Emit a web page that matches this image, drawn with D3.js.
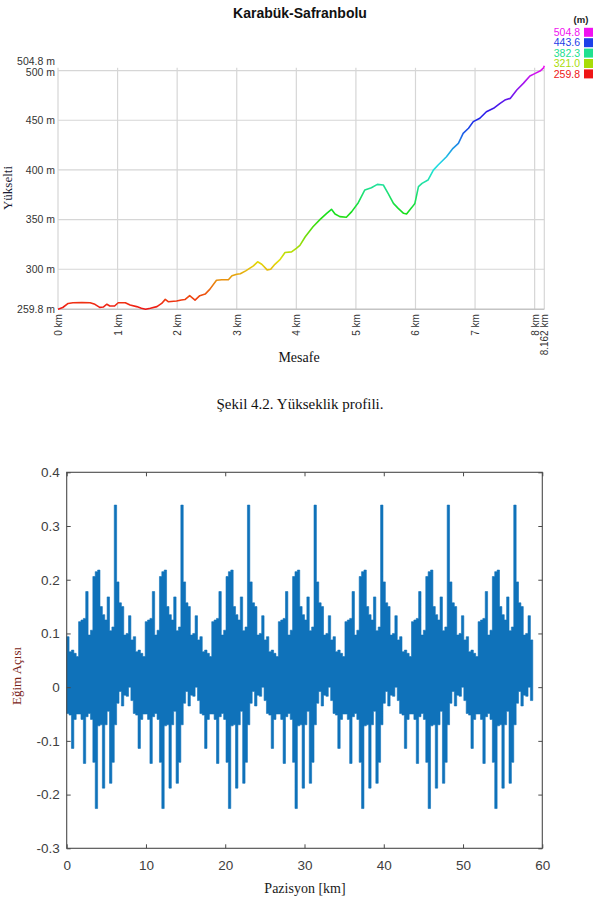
<!DOCTYPE html>
<html>
<head>
<meta charset="utf-8">
<script src="https://cdn.jsdelivr.net/npm/d3@7"></script>
<style>
  body { margin: 0; background: #fff; }
</style>
</head>
<body>
<div id="chart-area"></div>
<script>

// ---- Elevation profile (top figure) ----
var distKm = [
    0, 0.08, 0.17, 0.25, 0.40, 0.54, 0.62, 0.70, 0.76, 0.82,
    0.87, 0.95, 1.01, 1.13, 1.21, 1.32, 1.40, 1.47, 1.55, 1.66,
    1.74, 1.80, 1.85, 1.99, 2.07, 2.13, 2.21, 2.30, 2.38, 2.47,
    2.55, 2.66, 2.75, 2.86, 2.92, 3.00, 3.06, 3.15, 3.28, 3.35,
    3.42, 3.51, 3.57, 3.64, 3.73, 3.81, 3.92, 4.00, 4.06, 4.15,
    4.28, 4.40, 4.51, 4.59, 4.65, 4.73, 4.84, 4.93, 5.04, 5.15,
    5.26, 5.36, 5.46, 5.54, 5.63, 5.71, 5.80, 5.85, 5.94, 5.99,
    6.05, 6.11, 6.21, 6.30, 6.38, 6.52, 6.63, 6.72, 6.80, 6.89,
    6.97, 7.08, 7.19, 7.31, 7.42, 7.50, 7.59, 7.70, 7.81, 7.92,
    8.01, 8.09, 8.15, 8.162
];
var elevM = [
    259.8, 261.5, 265.6, 266.3, 266.5, 266.3, 264.7, 261.6, 262.0, 264.8,
    263.0, 263.0, 266.3, 266.3, 264.0, 262.4, 260.7, 259.8, 260.7, 262.4,
    265.6, 269.7, 267.3, 268.0, 269.0, 269.5, 273.4, 269.0, 273.4, 275.0,
    280.0, 289.0, 289.4, 289.5, 293.4, 295.0, 295.5, 298.4, 303.4, 307.5,
    305.0, 299.4, 300.0, 305.0, 310.0, 316.8, 317.5, 321.0, 324.0, 332.7,
    342.8, 350.2, 356.3, 360.3, 355.6, 353.0, 352.3, 358.0, 367.0, 379.8,
    382.0, 385.4, 384.8, 376.4, 366.3, 361.3, 356.3, 355.6, 362.3, 366.3,
    383.1, 386.4, 389.8, 399.8, 404.9, 413.3, 421.7, 426.7, 436.8, 441.9,
    448.6, 452.0, 458.5, 462.0, 467.0, 470.3, 472.0, 480.4, 487.1, 494.5,
    497.2, 499.5, 502.8, 504.8
];
var legendValues = [504.8, 443.6, 382.3, 321.0, 259.8];
var legendColors = ["#f012f0", "#1c40e8", "#20e090", "#a8dc08", "#ee1616"];
var distTicks = [0, 1, 2, 3, 4, 5, 6, 7, 8, 8.162];
var elevTicks = [259.8, 300, 350, 400, 450, 500, 504.8];

// ---- Slope angle (bottom figure) ----
// the profile in the figure repeats every 8.4 km (28 steps of 0.3 km), 7 times
var slopeStepKm = 0.3;
var slopeCycles = 7;
var slopeUpper = [
    0.094, 0.066, 0.069, 0.063, 0.057, 0.122, 0.125, 0.128, 0.178, 0.097,
    0.106, 0.206, 0.215, 0.218, 0.150, 0.135, 0.125, 0.168, 0.105, 0.112,
    0.339, 0.196, 0.157, 0.150, 0.097, 0.100, 0.133, 0.088
];
var slopeLower = [
    -0.049, -0.052, -0.114, -0.060, -0.050, -0.050, -0.060, -0.142, -0.055, -0.049,
    -0.060, -0.140, -0.226, -0.072, -0.070, -0.188, -0.070, -0.045, -0.179, -0.140,
    -0.070, -0.030, -0.008, -0.035, -0.015, -0.017, 0.000, -0.025
];
var slopeXTicks = [0, 10, 20, 30, 40, 50, 60];
var slopeYTicks = [-0.3, -0.2, -0.1, 0, 0.1, 0.2, 0.3, 0.4];

var svg = d3.select("#chart-area").append("svg")
    .attr("width", 595)
    .attr("height", 899)
    .style("font-family", "'Liberation Sans', Arial, sans-serif");

// ================= top figure =================
var x1 = d3.scaleLinear().domain([0, 8.162]).range([58, 544.3]);
var y1 = d3.scaleLinear().domain([259.8, 504.8]).range([309.2, 65.8]);

svg.append("text")
    .attr("x", 300).attr("y", 18)
    .attr("text-anchor", "middle")
    .attr("font-size", 14).attr("font-weight", "bold")
    .attr("fill", "#111")
    .text("Karabük-Safranbolu");

// grid
svg.append("g").selectAll("line")
    .data(distTicks)
    .join("line")
    .attr("x1", d => x1(d)).attr("x2", d => x1(d))
    .attr("y1", y1(504.8) + 2).attr("y2", y1(259.8))
    .attr("stroke", "#d6d6d6").attr("stroke-width", 1.2);

svg.append("g").selectAll("line")
    .data([300, 350, 400, 450, 500])
    .join("line")
    .attr("x1", x1(0)).attr("x2", x1(8.162))
    .attr("y1", d => y1(d)).attr("y2", d => y1(d))
    .attr("stroke", "#d6d6d6").attr("stroke-width", 1.2);

svg.append("line")
    .attr("x1", x1(0)).attr("x2", x1(8.162))
    .attr("y1", y1(259.8)).attr("y2", y1(259.8))
    .attr("stroke", "#c4c4c4").attr("stroke-width", 1.6);

// axes
var elevAxis = d3.axisLeft(y1)
    .tickValues(elevTicks)
    .tickSize(0)
    .tickPadding(3)
    .tickFormat(d => (d % 1 ? d.toFixed(1) : d) + " m");

var gy1 = svg.append("g")
    .attr("transform", `translate(${x1(0)},0)`)
    .call(elevAxis);
gy1.select(".domain").remove();
gy1.selectAll("text")
    .attr("font-size", 10.5)
    .attr("font-family", "'Liberation Sans', Arial, sans-serif")
    .attr("fill", "#333")
    // the two top labels sit nearly on each other in the figure
    .attr("y", d => d === 504.8 ? -4.5 : (d === 500 ? 1.5 : 0));

var distAxis = d3.axisBottom(x1)
    .tickValues(distTicks)
    .tickSize(0)
    .tickFormat(d => d + " km");

var gx1 = svg.append("g")
    .attr("transform", `translate(0,${y1(259.8)})`)
    .call(distAxis);
gx1.select(".domain").remove();
gx1.selectAll("text")
    .attr("transform", "rotate(-90)")
    .attr("text-anchor", "end")
    .attr("x", -5).attr("y", 0).attr("dy", "0.35em")
    .attr("font-size", 10)
    .attr("font-family", "'Liberation Sans', Arial, sans-serif")
    .attr("fill", "#333");

// elevation colour gradient, hue interpolated between the legend colours
var elevColor = d3.scaleLinear()
    .domain(legendValues.slice().reverse())
    .range(legendColors.slice().reverse())
    .interpolate(d3.interpolateHsl);

var grad = svg.append("defs").append("linearGradient")
    .attr("id", "elevGrad")
    .attr("gradientUnits", "userSpaceOnUse")
    .attr("x1", 0).attr("x2", 0)
    .attr("y1", y1(259.8)).attr("y2", y1(504.8));

grad.selectAll("stop")
    .data(d3.range(0, 1.0001, 0.025))
    .join("stop")
    .attr("offset", d => d)
    .attr("stop-color", d => elevColor(259.8 + d * (504.8 - 259.8)));

var profile = distKm.map((d, i) => ({km: d, m: elevM[i]}));

svg.append("path")
    .datum(profile)
    .attr("fill", "none")
    .attr("stroke", "url(#elevGrad)")
    .attr("stroke-width", 1.6)
    .attr("stroke-linejoin", "round")
    .attr("d", d3.line().x(d => x1(d.km)).y(d => y1(d.m)));

// legend
svg.append("text")
    .attr("x", 581).attr("y", 23)
    .attr("text-anchor", "middle")
    .attr("font-size", 9.5).attr("font-weight", "bold")
    .attr("fill", "#222")
    .text("(m)");

var leg = svg.append("g").selectAll("g")
    .data(legendValues)
    .join("g")
    .attr("transform", (d, i) => `translate(0,${32.3 + i * 10.4})`);

leg.append("text")
    .attr("x", 580).attr("dy", "0.35em")
    .attr("text-anchor", "end")
    .attr("font-size", 10.5)
    .attr("fill", (d, i) => legendColors[i])
    .text(d => d.toFixed(1));

leg.append("rect")
    .attr("x", 584).attr("y", -4.5)
    .attr("width", 9).attr("height", 9)
    .attr("fill", (d, i) => legendColors[i]);

// axis titles and caption
svg.append("text")
    .attr("transform", "translate(12,188) rotate(-90)")
    .attr("text-anchor", "middle")
    .attr("font-family", "'Liberation Serif', 'Times New Roman', serif")
    .attr("font-size", 13)
    .attr("fill", "#1a1a33")
    .text("Yükselti");

svg.append("text")
    .attr("x", 299).attr("y", 362)
    .attr("text-anchor", "middle")
    .attr("font-family", "'Liberation Serif', 'Times New Roman', serif")
    .attr("font-size", 14)
    .attr("fill", "#111")
    .text("Mesafe");

svg.append("text")
    .attr("x", 300).attr("y", 409)
    .attr("text-anchor", "middle")
    .attr("font-family", "'Liberation Serif', 'Times New Roman', serif")
    .attr("font-size", 15)
    .attr("fill", "#111")
    .text("Şekil 4.2. Yükseklik profili.");

// ================= bottom figure =================
var x2 = d3.scaleLinear().domain([0, 60]).range([66.7, 542.3]);
var y2 = d3.scaleLinear().domain([-0.3, 0.4]).range([848.3, 472.3]);

var slopeSeries = [];
for (var c = 0; c < slopeCycles; c++) {
    slopeUpper.forEach(function(u, k) {
        slopeSeries.push({
            km: (c * slopeUpper.length + k) * slopeStepKm,
            hi: u,
            lo: slopeLower[k]
        });
    });
}
var last = slopeSeries[slopeSeries.length - 1];
slopeSeries.push({km: last.km + slopeStepKm, hi: last.hi, lo: last.lo});

var slopeArea = d3.area()
    .curve(d3.curveStepAfter)
    .x(d => x2(d.km))
    .y0(d => y2(d.lo))
    .y1(d => y2(d.hi));

svg.append("path")
    .datum(slopeSeries)
    .attr("fill", "#0f72ba")
    .attr("stroke", "#0f72ba")
    .attr("stroke-width", 0.6)
    .attr("d", slopeArea);

var fmt = d => (d === 0 ? "0" : String(+d.toFixed(1)));

var gx2 = svg.append("g")
    .attr("transform", `translate(0,${y2(-0.3)})`)
    .call(d3.axisBottom(x2).tickValues(slopeXTicks).tickSize(-4).tickPadding(12).tickFormat(fmt));

var gx2top = svg.append("g")
    .attr("transform", `translate(0,${y2(0.4)})`)
    .call(d3.axisTop(x2).tickValues(slopeXTicks).tickSize(-4).tickFormat(""));

var gy2 = svg.append("g")
    .attr("transform", `translate(${x2(0)},0)`)
    .call(d3.axisLeft(y2).tickValues(slopeYTicks).tickSize(-4).tickPadding(7).tickFormat(fmt));

var gy2right = svg.append("g")
    .attr("transform", `translate(${x2(60)},0)`)
    .call(d3.axisRight(y2).tickValues(slopeYTicks).tickSize(-4).tickFormat(""));

[gx2, gx2top, gy2, gy2right].forEach(function(g) {
    g.select(".domain").remove();
    g.selectAll("line").attr("stroke", "#4a4a4a");
    g.selectAll("text")
        .attr("font-size", 13.5)
        .attr("font-family", "'Liberation Sans', Arial, sans-serif")
        .attr("fill", "#404040");
});

svg.append("rect")
    .attr("x", x2(0)).attr("y", y2(0.4))
    .attr("width", x2(60) - x2(0))
    .attr("height", y2(-0.3) - y2(0.4))
    .attr("fill", "none")
    .attr("stroke", "#4a4a4a")
    .attr("stroke-width", 1.1);

svg.append("text")
    .attr("x", 305).attr("y", 893)
    .attr("text-anchor", "middle")
    .attr("font-family", "'Liberation Serif', 'Times New Roman', serif")
    .attr("font-size", 14)
    .attr("fill", "#1a1a1a")
    .text("Pazisyon [km]");

svg.append("text")
    .attr("transform", "translate(21,676) rotate(-90)")
    .attr("text-anchor", "middle")
    .attr("font-family", "'Liberation Serif', 'Times New Roman', serif")
    .attr("font-size", 13)
    .attr("fill", "#7a2418")
    .text("Eğim Açısı");

</script>
</body>
</html>
